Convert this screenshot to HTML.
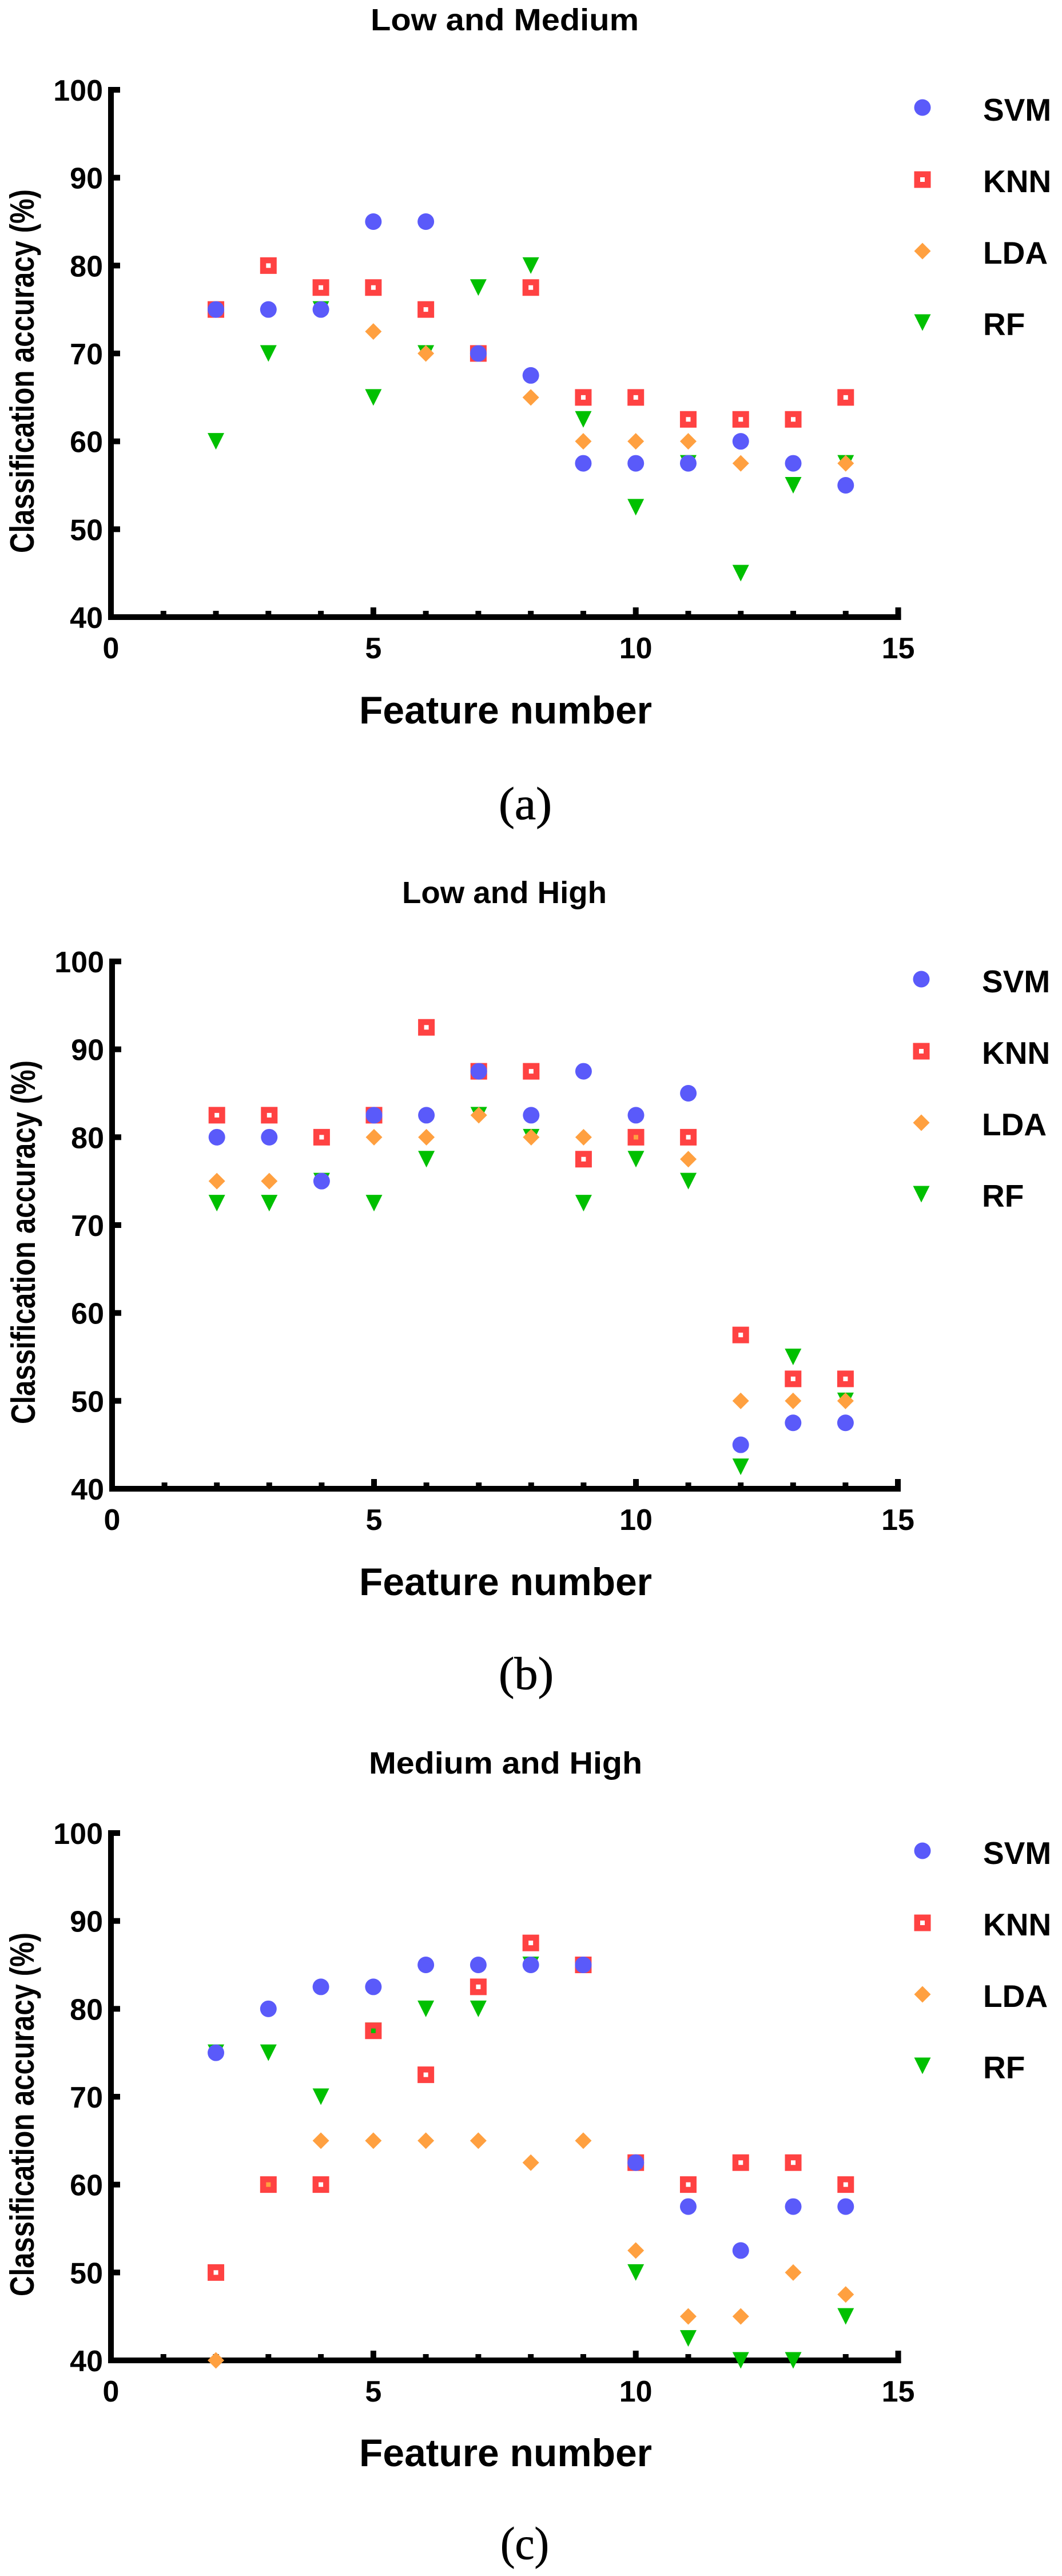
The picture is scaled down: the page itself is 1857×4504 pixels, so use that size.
<!DOCTYPE html>
<html lang="en">
<head>
<meta charset="utf-8">
<title>Classification accuracy vs feature number</title>
<style>
html,body{margin:0;padding:0;background:#fff;width:1857px;height:4504px;overflow:hidden}
svg{display:block}
text{font-family:"Liberation Sans",sans-serif;font-weight:700;fill:#000}
.cap{font-family:"Liberation Serif",serif;font-weight:400;font-size:80px;stroke:#000;stroke-width:0.8px}
.title{font-size:54px}
.xt{font-size:68px}
.yt{font-size:59px}
.leg{font-size:55px}
</style>
</head>
<body>
<svg id="figure" xmlns="http://www.w3.org/2000/svg" width="1857" height="4504" viewBox="0 0 1857 4504">
  <rect width="1857" height="4504" fill="#fff"/>

  <g id="panel-a">
    <text class="title" x="648" y="53" textLength="469" lengthAdjust="spacingAndGlyphs">Low and Medium</text>
    <text class="xt" x="628" y="1265" textLength="512" lengthAdjust="spacingAndGlyphs">Feature number</text>
    <text class="yt" transform="translate(59,967) rotate(-90)" textLength="636" lengthAdjust="spacingAndGlyphs">Classification accuracy (%)</text>
    <text class="leg" x="1719" y="211">SVM</text>
    <text class="leg" x="1719" y="336">KNN</text>
    <text class="leg" x="1719" y="461">LDA</text>
    <text class="leg" x="1719" y="586">RF</text>
    <text class="cap" x="872" y="1432" textLength="93" lengthAdjust="spacingAndGlyphs">(a)</text>
  </g>

  <g id="panel-b">
    <text class="title" x="703" y="1579" textLength="358" lengthAdjust="spacingAndGlyphs">Low and High</text>
    <text class="xt" x="628" y="2789" textLength="512" lengthAdjust="spacingAndGlyphs">Feature number</text>
    <text class="yt" transform="translate(61,2490) rotate(-90)" textLength="636" lengthAdjust="spacingAndGlyphs">Classification accuracy (%)</text>
    <text class="leg" x="1717" y="1735">SVM</text>
    <text class="leg" x="1717" y="1860">KNN</text>
    <text class="leg" x="1717" y="1985">LDA</text>
    <text class="leg" x="1717" y="2110">RF</text>
    <text class="cap" x="872" y="2953" textLength="96" lengthAdjust="spacingAndGlyphs">(b)</text>
  </g>

  <g id="panel-c">
    <text class="title" x="645" y="3101" textLength="478" lengthAdjust="spacingAndGlyphs">Medium and High</text>
    <text class="xt" x="628" y="4312" textLength="512" lengthAdjust="spacingAndGlyphs">Feature number</text>
    <text class="yt" transform="translate(59,4015) rotate(-90)" textLength="636" lengthAdjust="spacingAndGlyphs">Classification accuracy (%)</text>
    <text class="leg" x="1719" y="3259">SVM</text>
    <text class="leg" x="1719" y="3384">KNN</text>
    <text class="leg" x="1719" y="3509">LDA</text>
    <text class="leg" x="1719" y="3634">RF</text>
    <text class="cap" x="875" y="4474" textLength="85" lengthAdjust="spacingAndGlyphs">(c)</text>
  </g>
</svg>

<script>
// ---- Shared categories and tick labels ----
const featureNumbers = [2, 3, 4, 5, 6, 7, 8, 9, 10, 11, 12, 13, 14];
const yTickLabels = [40, 50, 60, 70, 80, 90, 100];
const xTickLabels = [0, 5, 10, 15];
const xMinorTicks = [1, 2, 3, 4, 5, 6, 7, 8, 9, 10, 11, 12, 13, 14, 15];

// ---- Panel (a) Low and Medium ----
const svmLowMedium = [75, 75, 75, 85, 85, 70, 67.5, 57.5, 57.5, 57.5, 60, 57.5, 55];
const knnLowMedium = [75, 80, 77.5, 77.5, 75, 70, 77.5, 65, 65, 62.5, 62.5, 62.5, 65];
const ldaLowMedium = [75, 75, 75, 72.5, 70, 70, 65, 60, 60, 60, 57.5, 57.5, 57.5];
const rfLowMedium = [60, 70, 75, 65, 70, 77.5, 80, 62.5, 52.5, 57.5, 45, 55, 57.5];

// ---- Panel (b) Low and High ----
const svmLowHigh = [80, 80, 75, 82.5, 82.5, 87.5, 82.5, 87.5, 82.5, 85, 45, 47.5, 47.5];
const knnLowHigh = [82.5, 82.5, 80, 82.5, 92.5, 87.5, 87.5, 77.5, 80, 80, 57.5, 52.5, 52.5];
const ldaLowHigh = [75, 75, 75, 80, 80, 82.5, 80, 80, 80, 77.5, 50, 50, 50];
const rfLowHigh = [72.5, 72.5, 75, 72.5, 77.5, 82.5, 80, 72.5, 77.5, 75, 42.5, 55, 50];

// ---- Panel (c) Medium and High ----
const svmMediumHigh = [75, 80, 82.5, 82.5, 85, 85, 85, 85, 62.5, 57.5, 52.5, 57.5, 57.5];
const knnMediumHigh = [50, 60, 60, 77.5, 72.5, 82.5, 87.5, 85, 62.5, 60, 62.5, 62.5, 60];
const ldaMediumHigh = [40, 60, 65, 65, 65, 65, 62.5, 65, 52.5, 45, 45, 50, 47.5];
const rfMediumHigh = [75, 75, 70, 77.5, 80, 80, 85, 85, 50, 42.5, 40, 40, 45];

const SVGNS = 'http://www.w3.org/2000/svg';
const COLORS = { svm: '#5A5AFA', knn: '#FF4242', lda: '#FFA040', rf: '#00C000' };
const R = 14.5;

function shape(kind, cx, cy) {
  let el;
  if (kind === 'svm') {
    el = document.createElementNS(SVGNS, 'circle');
    el.setAttribute('cx', cx);
    el.setAttribute('cy', cy);
    el.setAttribute('r', R);
  } else {
    el = document.createElementNS(SVGNS, 'path');
    let d;
    if (kind === 'knn') {
      d = 'M' + (cx - R) + ' ' + (cy - R) + 'h29v29h-29z' +
          'M' + (cx - 4) + ' ' + (cy - 4) + 'h8v8h-8z';
      el.setAttribute('fill-rule', 'evenodd');
    } else if (kind === 'lda') {
      d = 'M' + cx + ' ' + (cy - R) + 'L' + (cx + R) + ' ' + cy + 'L' + cx + ' ' + (cy + R) + 'L' + (cx - R) + ' ' + cy + 'Z';
    } else {
      d = 'M' + (cx - R) + ' ' + (cy - R) + 'H' + (cx + R) + 'L' + cx + ' ' + (cy + R) + 'Z';
    }
    el.setAttribute('d', d);
  }
  el.setAttribute('fill', COLORS[kind]);
  return el;
}

function rect(x, y, w, h) {
  const el = document.createElementNS(SVGNS, 'rect');
  el.setAttribute('x', x);
  el.setAttribute('y', y);
  el.setAttribute('width', w);
  el.setAttribute('height', h);
  el.setAttribute('fill', '#000');
  return el;
}

function drawPanel(panelId, originX, axisY, topY, unitX, legendX, series) {
  const g = document.getElementById(panelId);
  const xScale = function (v) { return originX + (v - 0) * unitX; };
  const yScale = function (v) { return axisY - (v - 40) * (axisY - topY) / 60; };

  // axes
  const yAxis = rect(originX - 5, topY - 5, 10, axisY - topY + 10);
  
  
  g.appendChild(yAxis);

  const xAxis = rect(originX - 5, axisY - 5, xScale(15) - originX + 10, 10);
  
  
  g.appendChild(xAxis);

  // y ticks
  yTickLabels.forEach(function (v) {
    const tick = rect(originX - 5, yScale(v) - 5, 21, 10);
    
    
    g.appendChild(tick);

    const label = document.createElementNS(SVGNS, 'text');
    label.setAttribute('x', originX - 14);
    label.setAttribute('y', yScale(v) + 19);
    label.setAttribute('text-anchor', 'end');
    label.setAttribute('font-size', '52');
    label.textContent = v;
    
    
    g.appendChild(label);
  });

  // x ticks
  xMinorTicks.forEach(function (v) {
    const major = v % 5 === 0;
    const h = major ? 22 : 16;
    const tick = rect(xScale(v) - 5, axisY + 5 - h, 10, h);
    
    
    g.appendChild(tick);
  });

  xTickLabels.forEach(function (v) {
    const label = document.createElementNS(SVGNS, 'text');
    label.setAttribute('x', xScale(v));
    label.setAttribute('y', axisY + 72);
    label.setAttribute('text-anchor', 'middle');
    label.setAttribute('font-size', '52');
    label.textContent = v;
    
    
    g.appendChild(label);
  });

  // marks: back to front RF, LDA, KNN, SVM
  ['rf', 'lda', 'knn', 'svm'].forEach(function (kind) {
    series[kind].forEach(function (value, i) {
      const mark = shape(kind, xScale(featureNumbers[i]), yScale(value));
      
      
      g.appendChild(mark);
    });
  });

  // legend markers
  [['svm', 31], ['knn', 157], ['lda', 282], ['rf', 407]].forEach(function (entry) {
    const marker = shape(entry[0], legendX, topY + entry[1]);
    
    
    g.appendChild(marker);
  });
}

drawPanel('panel-a', 194, 1079, 157, 91.77, 1613,
  { svm: svmLowMedium, knn: knnLowMedium, lda: ldaLowMedium, rf: rfLowMedium });
drawPanel('panel-b', 196, 2603, 1681, 91.6, 1611,
  { svm: svmLowHigh, knn: knnLowHigh, lda: ldaLowHigh, rf: rfLowHigh });
drawPanel('panel-c', 194, 4127, 3205, 91.77, 1613,
  { svm: svmMediumHigh, knn: knnMediumHigh, lda: ldaMediumHigh, rf: rfMediumHigh });
</script>
</body>
</html>
